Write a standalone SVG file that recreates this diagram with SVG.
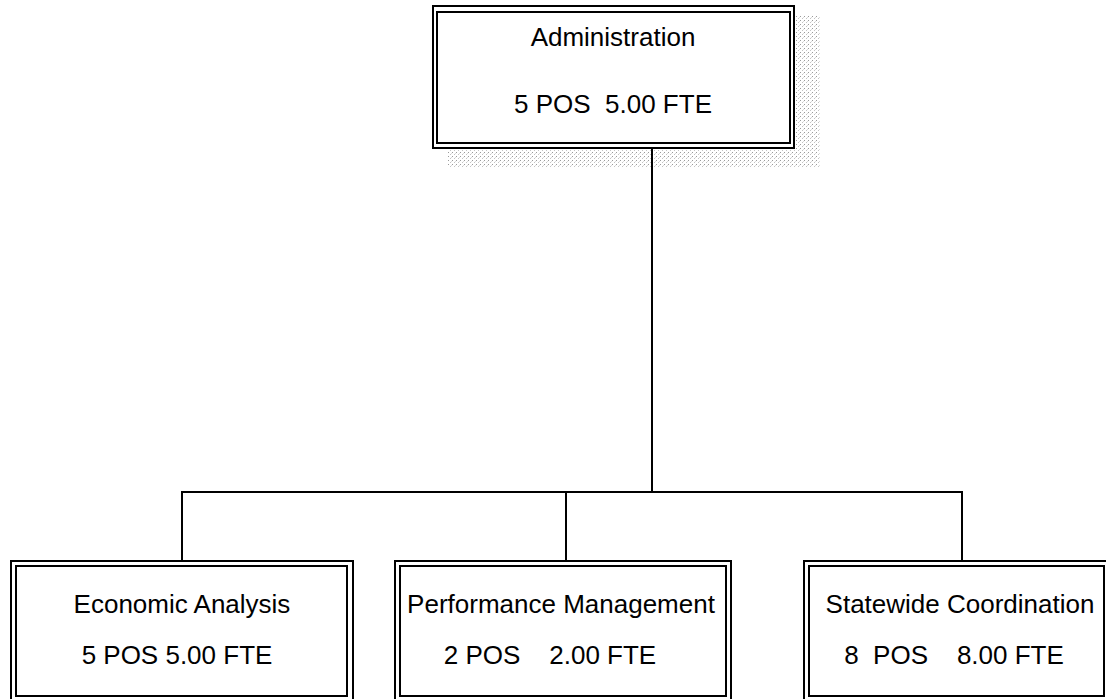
<svg xmlns="http://www.w3.org/2000/svg" width="1106" height="699" viewBox="0 0 1106 699">
<style>
.frame{fill:none;stroke:#000;stroke-width:2}
.bg{fill:#fff}
.lbl{font-family:"Liberation Sans",Arial,sans-serif;font-size:26px;fill:#000;text-anchor:middle;white-space:pre}
.wire{fill:none;stroke:#000;stroke-width:2}
</style>
<defs>
<pattern id="dots" width="4" height="4" patternUnits="userSpaceOnUse">
<rect width="4" height="4" fill="#fff"/>
<rect x="0" y="0" width="1" height="1" fill="#9a9a9a"/>
<rect x="2" y="2" width="1" height="1" fill="#c4c4c4"/>
<rect x="3" y="1" width="1" height="1" fill="#dcdcdc"/>
</pattern>
</defs>
<rect width="1106" height="699" fill="#fff"/>
<g id="connectors">
<line class="wire" x1="652" y1="148" x2="652" y2="492"/>
<line class="wire" x1="181" y1="492" x2="963" y2="492"/>
<line class="wire" x1="182" y1="491" x2="182" y2="561"/>
<line class="wire" x1="566" y1="491" x2="566" y2="561"/>
<line class="wire" x1="962" y1="491" x2="962" y2="561"/>
</g>
<g id="administration">
<rect x="796" y="16" width="24" height="151" fill="url(#dots)"/>
<rect x="448" y="150" width="348" height="17" fill="url(#dots)"/>
<line class="wire" x1="652" y1="148" x2="652" y2="167"/>
<rect class="bg" x="433" y="6" width="361" height="142"/>
<rect class="frame" x="433" y="6" width="361" height="142"/>
<rect class="frame" x="437" y="12" width="353" height="131"/>
<text class="lbl" x="613" y="46">Administration</text>
<text class="lbl" x="613" y="113">5 POS  5.00 FTE</text>
</g>
<g id="economic-analysis">
<rect class="frame" x="11" y="561" width="342" height="142"/>
<rect class="frame" x="16" y="566" width="331" height="130"/>
<text class="lbl" x="182" y="613">Economic Analysis</text>
<text class="lbl" x="177" y="664">5 POS 5.00 FTE</text>
</g>
<g id="performance-management">
<rect class="frame" x="395" y="561" width="336" height="142"/>
<rect class="frame" x="400" y="566" width="326" height="130"/>
<text class="lbl" x="561" y="613">Performance Management</text>
<text class="lbl" x="550" y="664">2 POS    2.00 FTE</text>
</g>
<g id="statewide-coordination">
<rect class="frame" x="804" y="561" width="306" height="142"/>
<rect class="frame" x="809" y="566" width="295" height="130"/>
<text class="lbl" x="960" y="613">Statewide Coordination</text>
<text class="lbl" x="954" y="664">8  POS    8.00 FTE</text>
</g>
</svg>
